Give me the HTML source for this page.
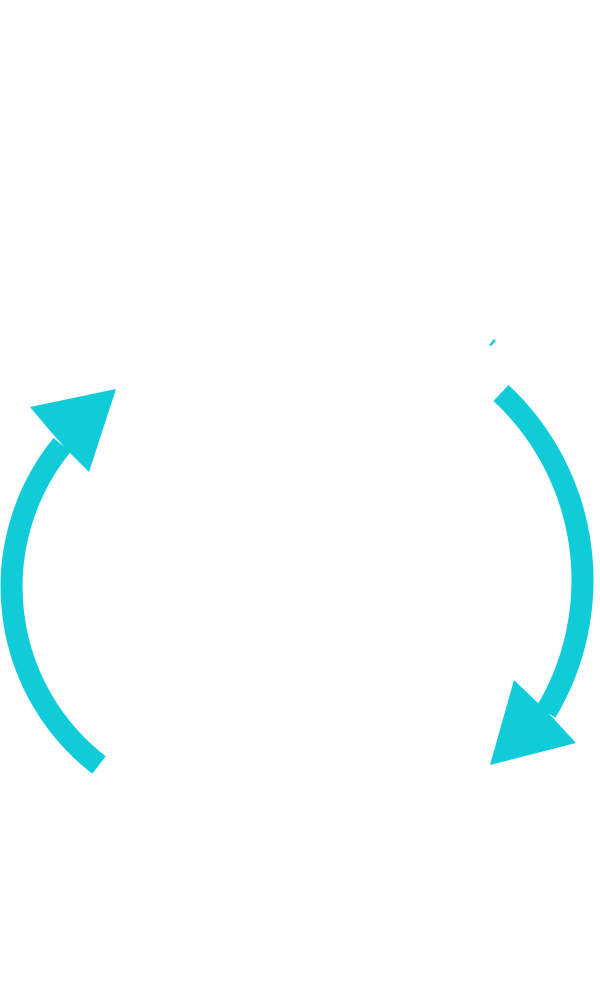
<!DOCTYPE html>
<html><head><meta charset="utf-8"><style>html,body{margin:0;padding:0;background:#fff}svg{display:block}</style></head>
<body>
<svg width="600" height="1000" viewBox="0 0 600 1000" xmlns="http://www.w3.org/2000/svg">
<g fill="none" stroke="#10CCD9" stroke-width="22">
<path d="M501,393 A256 256 0 0 1 546,712"/>
<path d="M99,765 A225 225 0 0 1 62,445"/>
</g>
<g fill="#10CCD9">
<polygon points="116,389 30,407 51,432 68,451 89,472"/>
<polygon points="490,765 514,680 537,702 553,718 576,743"/>
<polygon points="489,345 494,339 496,341 491,346"/>
</g>
</svg>
</body></html>
